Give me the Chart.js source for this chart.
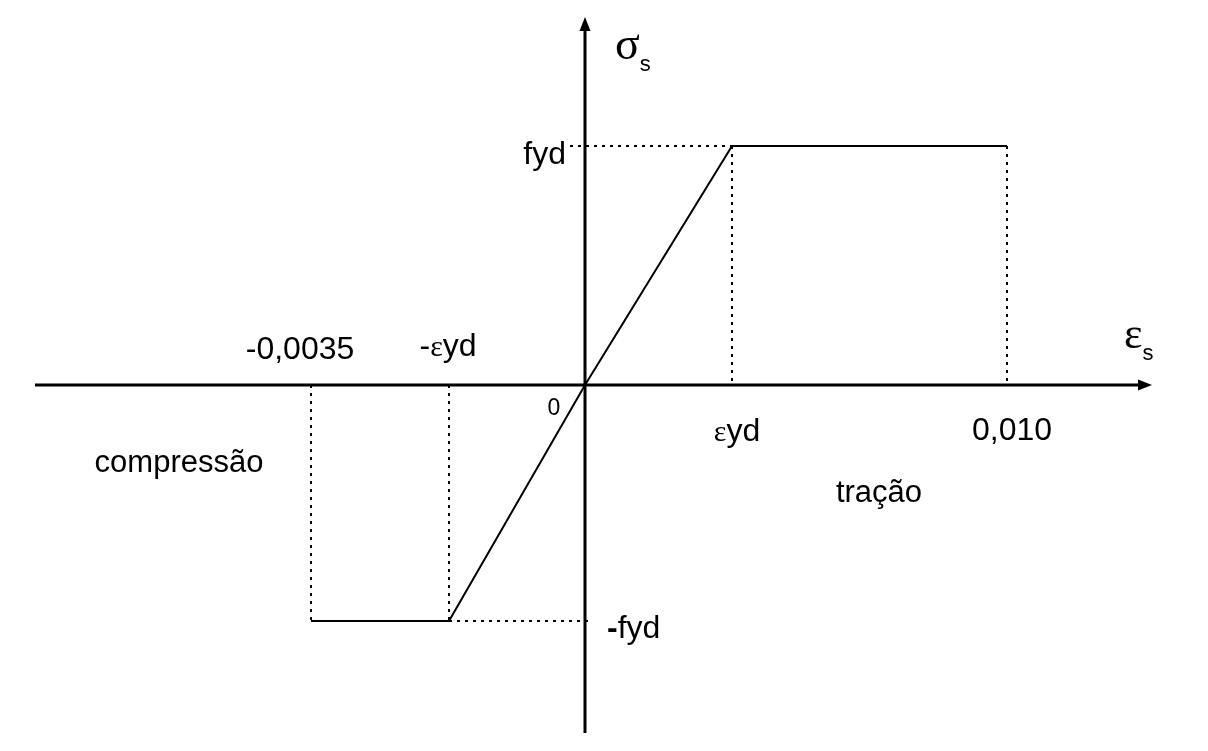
<!DOCTYPE html>
<html>
<head>
<meta charset="utf-8">
<script src="https://cdn.jsdelivr.net/npm/chart.js@4/dist/chart.umd.min.js"></script>
<style>
html,body{margin:0;padding:0;background:#fff;}
#wrap{width:1208px;height:751px;position:relative;}
</style>
</head>
<body>
<div id="wrap"><canvas id="c"></canvas></div>
<script>
// Schematic diagram units (not to scale)
const strainLabels = ["-0,0035", "-εyd", "0", "εyd", "0,010"];
const strainPos = [-2.74, -1.36, 0, 1.47, 4.22];
const stressPos = [-2.36, -2.36, 0, 2.39, 2.39];
const stressLabels = ["-fyd", "fyd"];
const axisX = [-5.50, 5.67];
const axisY = [-3.48, 3.68];
const regionLabels = ["compressão", "tração"];

const curve = strainPos.map((x, i) => ({x: x, y: stressPos[i]}));
const dotted = [
  [{x: strainPos[0], y: 0}, {x: strainPos[0], y: stressPos[0]}],
  [{x: strainPos[1], y: 0}, {x: strainPos[1], y: stressPos[1]}],
  [{x: strainPos[1], y: stressPos[1]}, {x: 0.06, y: stressPos[1]}],
  [{x: -0.15, y: stressPos[3]}, {x: strainPos[3], y: stressPos[3]}],
  [{x: strainPos[3], y: stressPos[3]}, {x: strainPos[3], y: 0}],
  [{x: strainPos[4], y: stressPos[4]}, {x: strainPos[4], y: 0}]
];

const datasets = [];
dotted.forEach(seg => datasets.push({
  data: seg, showLine: true, borderColor: '#000', borderWidth: 2,
  borderDash: [3, 5], pointRadius: 0, fill: false
}));
datasets.push({data: [{x: axisX[0], y: 0}, {x: axisX[1] - 0.08, y: 0}], showLine: true,
  borderColor: '#000', borderWidth: 3, pointRadius: 0});
datasets.push({data: [{x: 0, y: axisY[0]}, {x: 0, y: axisY[1] - 0.08}], showLine: true,
  borderColor: '#000', borderWidth: 3, pointRadius: 0});
datasets.push({data: curve, showLine: true, borderColor: '#000', borderWidth: 2,
  pointRadius: 0, tension: 0});

function drawRuns(ctx, runs, x, y, align) {
  let total = 0;
  runs.forEach(r => { ctx.font = r[1]; total += ctx.measureText(r[0]).width; });
  let cx = align === 'center' ? x - total / 2 : (align === 'right' ? x - total : x);
  ctx.textAlign = 'left';
  ctx.textBaseline = 'alphabetic';
  runs.forEach(r => {
    ctx.font = r[1];
    ctx.fillText(r[0], cx, y + (r[2] || 0));
    cx += ctx.measureText(r[0]).width;
  });
}

const overlay = {
  id: 'overlay',
  afterDatasetsDraw(chart) {
    const ctx = chart.ctx, xs = chart.scales.x, ys = chart.scales.y;
    const px = v => xs.getPixelForValue(v), py = v => ys.getPixelForValue(v);
    ctx.save();
    ctx.fillStyle = '#000';
    const xt = px(axisX[1]), y0 = py(0);
    ctx.beginPath(); ctx.moveTo(xt, y0); ctx.lineTo(xt - 14, y0 - 5.5); ctx.lineTo(xt - 14, y0 + 5.5); ctx.closePath(); ctx.fill();
    const yt = py(axisY[1]), x0 = px(0);
    ctx.beginPath(); ctx.moveTo(x0, yt); ctx.lineTo(x0 - 5.5, yt + 14); ctx.lineTo(x0 + 5.5, yt + 14); ctx.closePath(); ctx.fill();

    const sans = 'px "Liberation Sans", Arial, sans-serif';
    const serif = 'px "Liberation Serif", "Times New Roman", serif';
    drawRuns(ctx, [["σ", "46" + serif], ["s", "22" + sans, 12]], x0 + 30, 59, 'left');
    drawRuns(ctx, [["ε", "44" + serif], ["s", "22" + sans, 12]], px(axisX[1]) - 28, 348, 'left');
    drawRuns(ctx, [[strainLabels[0], "32" + sans]], px(strainPos[0]) - 11, 359, 'center');
    drawRuns(ctx, [["-", "32" + sans], ["ε", "30" + serif], ["yd", "32" + sans]], px(strainPos[1]) - 1, 356, 'center');
    drawRuns(ctx, [[strainLabels[2], "23" + sans]], x0 - 31, 415, 'center');
    drawRuns(ctx, [["ε", "30" + serif], ["yd", "32" + sans]], px(strainPos[3]) + 5, 441, 'center');
    drawRuns(ctx, [[strainLabels[4], "32" + sans]], px(strainPos[4]) + 5, 440, 'center');
    drawRuns(ctx, [[stressLabels[1], "32" + sans]], x0 - 19, 164, 'right');
    drawRuns(ctx, [["-", "bold 32" + sans], ["fyd", "32" + sans]], x0 + 22, 638, 'left');
    drawRuns(ctx, [[regionLabels[0], "31" + sans]], 179, 472, 'center');
    drawRuns(ctx, [[regionLabels[1], "31" + sans]], 879, 502, 'center');
    ctx.restore();
  }
};

new Chart(document.getElementById('c'), {
  type: 'scatter',
  data: {datasets: datasets},
  options: {
    responsive: true, maintainAspectRatio: false, animation: false,
    layout: {padding: 0},
    plugins: {legend: {display: false}, tooltip: {enabled: false}},
    elements: {line: {borderCapStyle: 'butt'}},
    scales: {
      x: {type: 'linear', display: false, min: -5.85, max: 6.23},
      y: {type: 'linear', display: false, min: -3.66, max: 3.85}
    }
  },
  plugins: [overlay]
});
</script>
</body>
</html>
